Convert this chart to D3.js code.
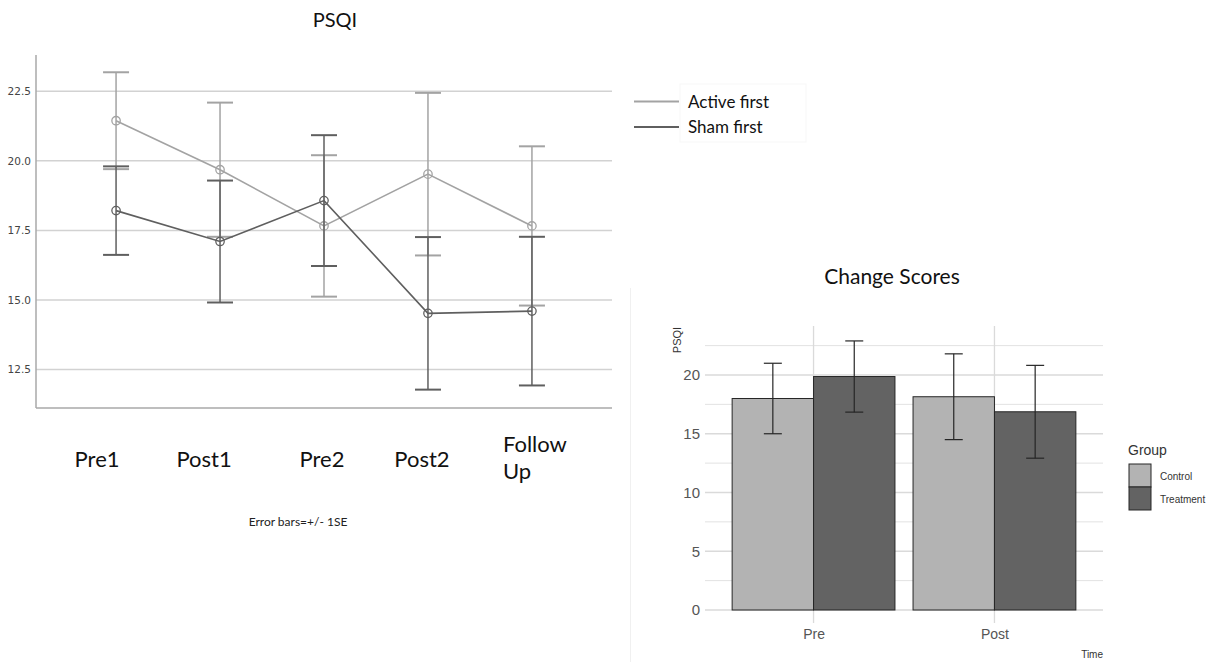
<!DOCTYPE html>
<html>
<head>
<meta charset="utf-8">
<script src="https://cdn.jsdelivr.net/npm/d3@7/dist/d3.min.js"></script>
<style>
  html, body { margin: 0; padding: 0; background: #fff; }
  svg { display: block; }
</style>
</head>
<body>
<svg id="chart" width="1218" height="662"></svg>
<script>
// ---- PSQI over time (means ± 1 SE) ----
const timepoints = ["Pre1", "Post1", "Pre2", "Post2", "Follow Up"];
const timeLabels = [["Pre1"], ["Post1"], ["Pre2"], ["Post2"], ["Follow", "Up"]];
const activeMean = [21.44, 19.68, 17.66, 19.52, 17.66];
const activeSE   = [1.74, 2.41, 2.54, 2.92, 2.86];
const shamMean   = [18.21, 17.10, 18.57, 14.52, 14.60];
const shamSE     = [1.59, 2.19, 2.35, 2.74, 2.67];
const psqiTicks  = [12.5, 15.0, 17.5, 20.0, 22.5];
const seriesNames = ["Active first", "Sham first"];

// ---- Change scores bar chart ----
const times = ["Pre", "Post"];
const groups = ["Control", "Treatment"];
const controlMean = [18.0, 18.15];
const controlErr  = [3.0, 3.65];
const treatMean   = [19.87, 16.87];
const treatErr    = [3.03, 3.95];
const barTicks    = [0, 5, 10, 15, 20];
const barMinor    = [2.5, 7.5, 12.5, 17.5, 22.5];

const svg = d3.select("#chart");
svg.append("rect").attr("width", 1218).attr("height", 662).attr("fill", "#fff");

const calibri = "Lato, 'Open Sans', sans-serif";
const arial = "'Liberation Sans', Arial, sans-serif";

// ================= Left: line chart =================
const L = { left: 36, right: 612, top: 55, bottom: 408 };
const x = d3.scalePoint().domain(timepoints).range([L.left, L.right]).padding(0.77);
const y = d3.scaleLinear().domain([11.12, 23.8]).range([L.bottom, L.top]);

const left = svg.append("g");

// gridlines
left.append("g").selectAll("line").data(psqiTicks).join("line")
  .attr("x1", L.left).attr("x2", L.right)
  .attr("y1", d => y(d)).attr("y2", d => y(d))
  .attr("stroke", "#d2d2d2").attr("stroke-width", 1.5);

// y axis
const yAxis = d3.axisLeft(y).tickValues(psqiTicks).tickFormat(d3.format(".1f")).tickSize(0).tickPadding(5);
const gy = left.append("g").attr("transform", `translate(${L.left},0)`).call(yAxis);
gy.select(".domain").remove();
gy.selectAll("text").attr("font-family", "'DejaVu Sans', sans-serif").attr("font-size", 10.5).attr("fill", "#444");

// axis frame
left.append("line").attr("x1", L.left).attr("x2", L.left).attr("y1", L.top).attr("y2", L.bottom)
  .attr("stroke", "#a8a8a8").attr("stroke-width", 1.5);
left.append("line").attr("x1", L.left).attr("x2", L.right).attr("y1", L.bottom).attr("y2", L.bottom)
  .attr("stroke", "#a8a8a8").attr("stroke-width", 1.5);

const series = [
  { name: seriesNames[0], mean: activeMean, se: activeSE, color: "#a3a3a3" },
  { name: seriesNames[1], mean: shamMean, se: shamSE, color: "#5f5f5f" }
];

const capHalf = 13;
series.forEach(s => {
  const pts = timepoints.map((t, i) => ({ t, m: s.mean[i], se: s.se[i] }));
  const g = left.append("g");
  // error bars
  g.selectAll("line.err").data(pts).join("line").attr("class", "err")
    .attr("x1", d => x(d.t)).attr("x2", d => x(d.t))
    .attr("y1", d => y(d.m + d.se)).attr("y2", d => y(d.m - d.se))
    .attr("stroke", s.color).attr("stroke-width", 1.5);
  g.selectAll("line.capT").data(pts).join("line").attr("class", "capT")
    .attr("x1", d => x(d.t) - capHalf).attr("x2", d => x(d.t) + capHalf)
    .attr("y1", d => y(d.m + d.se)).attr("y2", d => y(d.m + d.se))
    .attr("stroke", s.color).attr("stroke-width", 2);
  g.selectAll("line.capB").data(pts).join("line").attr("class", "capB")
    .attr("x1", d => x(d.t) - capHalf).attr("x2", d => x(d.t) + capHalf)
    .attr("y1", d => y(d.m - d.se)).attr("y2", d => y(d.m - d.se))
    .attr("stroke", s.color).attr("stroke-width", 2);
  // mean line
  g.append("path").datum(pts)
    .attr("d", d3.line().x(d => x(d.t)).y(d => y(d.m)))
    .attr("fill", "none").attr("stroke", s.color).attr("stroke-width", 1.6);
  // markers
  g.selectAll("circle").data(pts).join("circle")
    .attr("cx", d => x(d.t)).attr("cy", d => y(d.m)).attr("r", 4.2)
    .attr("fill", "none").attr("stroke", s.color).attr("stroke-width", 1.3);
});

// title
left.append("text").attr("x", 335).attr("y", 27).attr("text-anchor", "middle")
  .attr("font-family", calibri).attr("font-size", 20).attr("fill", "#111").text("PSQI");

// category labels (text boxes below the plot)
const labelShift = [-19, -16, -2, -6, -29];
const labelAnchor = ["middle", "middle", "middle", "middle", "start"];
timepoints.forEach((t, i) => {
  const txt = left.append("text")
    .attr("x", x(t) + labelShift[i])
    .attr("y", timeLabels[i].length > 1 ? 452 : 467)
    .attr("text-anchor", labelAnchor[i])
    .attr("font-family", calibri).attr("font-size", 22).attr("fill", "#111");
  timeLabels[i].forEach((line, k) => {
    txt.append("tspan").attr("x", x(t) + labelShift[i]).attr("dy", k === 0 ? 0 : 27).text(line);
  });
});

left.append("text").attr("x", 298).attr("y", 526).attr("text-anchor", "middle")
  .attr("font-family", calibri).attr("font-size", 12).attr("fill", "#222").text("Error bars=+/- 1SE");

// legend
const lg = left.append("g");
lg.append("rect").attr("x", 680).attr("y", 84).attr("width", 126).attr("height", 58)
  .attr("fill", "none").attr("stroke", "#f7f7f7");
series.forEach((s, i) => {
  lg.append("line").attr("x1", 634).attr("x2", 679)
    .attr("y1", 101.5 + i * 25.5).attr("y2", 101.5 + i * 25.5)
    .attr("stroke", s.color).attr("stroke-width", 2);
  lg.append("text").attr("x", 688).attr("y", 107.5 + i * 25.5)
    .attr("font-family", calibri).attr("font-size", 17).attr("fill", "#111").text(s.name);
});

// faint panel divider
svg.append("line").attr("x1", 630.5).attr("x2", 630.5).attr("y1", 288).attr("y2", 662)
  .attr("stroke", "#f0f0f0").attr("stroke-width", 1);

// ================= Right: bar chart =================
const R = { left: 705, right: 1103, top: 326, bottom: 623 };
const x2 = d3.scalePoint().domain(times).range([R.left, R.right]).padding(0.6);
const dodge = d3.scaleBand().domain(groups).range([-0.45 * x2.step(), 0.45 * x2.step()]);
const y2 = d3.scaleLinear().domain([0, 24.17]).range([610, R.top]);

const right = svg.append("g");

// grid
right.append("g").selectAll("line").data(barMinor).join("line")
  .attr("x1", R.left).attr("x2", R.right).attr("y1", d => y2(d)).attr("y2", d => y2(d))
  .attr("stroke", "#e2e2e2").attr("stroke-width", 1);
right.append("g").selectAll("line").data(barTicks).join("line")
  .attr("x1", R.left).attr("x2", R.right).attr("y1", d => y2(d)).attr("y2", d => y2(d))
  .attr("stroke", "#dadada").attr("stroke-width", 1.3);
right.append("g").selectAll("line").data(times).join("line")
  .attr("x1", d => x2(d)).attr("x2", d => x2(d)).attr("y1", R.top).attr("y2", R.bottom)
  .attr("stroke", "#dadada").attr("stroke-width", 1.3);

const barData = [];
times.forEach((t, i) => {
  barData.push({ t, g: groups[0], m: controlMean[i], e: controlErr[i] });
  barData.push({ t, g: groups[1], m: treatMean[i], e: treatErr[i] });
});
const fill = d3.scaleOrdinal().domain(groups).range(["#b3b3b3", "#636363"]);

right.append("g").selectAll("rect").data(barData).join("rect")
  .attr("x", d => x2(d.t) + dodge(d.g))
  .attr("width", dodge.bandwidth())
  .attr("y", d => y2(d.m))
  .attr("height", d => y2(0) - y2(d.m))
  .attr("fill", d => fill(d.g)).attr("stroke", "#262626").attr("stroke-width", 1);

const ecap = 9;
const eg = right.append("g");
eg.selectAll("line.v").data(barData).join("line").attr("class", "v")
  .attr("x1", d => x2(d.t) + dodge(d.g) + dodge.bandwidth() / 2)
  .attr("x2", d => x2(d.t) + dodge(d.g) + dodge.bandwidth() / 2)
  .attr("y1", d => y2(d.m + d.e)).attr("y2", d => y2(d.m - d.e))
  .attr("stroke", "#262626").attr("stroke-width", 1.2);
[1, -1].forEach(sgn => {
  eg.append("g").selectAll("line").data(barData).join("line")
    .attr("x1", d => x2(d.t) + dodge(d.g) + dodge.bandwidth() / 2 - ecap)
    .attr("x2", d => x2(d.t) + dodge(d.g) + dodge.bandwidth() / 2 + ecap)
    .attr("y1", d => y2(d.m + sgn * d.e)).attr("y2", d => y2(d.m + sgn * d.e))
    .attr("stroke", "#262626").attr("stroke-width", 1.2);
});

// axes text
const gy2 = right.append("g").attr("transform", `translate(${R.left - 3},0)`)
  .call(d3.axisLeft(y2).tickValues(barTicks).tickSize(0).tickPadding(2));
gy2.select(".domain").remove();
gy2.selectAll("text").attr("font-family", arial).attr("font-size", 15).attr("fill", "#555");

const gx2 = right.append("g").attr("transform", `translate(0,${R.bottom})`)
  .call(d3.axisBottom(x2).tickSize(0).tickPadding(6));
gx2.select(".domain").remove();
gx2.selectAll("text").attr("font-family", arial).attr("font-size", 14).attr("fill", "#555");

right.append("text").attr("transform", `translate(681,340) rotate(-90)`)
  .attr("text-anchor", "middle").attr("font-family", arial).attr("font-size", 11).attr("fill", "#333").text("PSQI");
right.append("text").attr("x", R.right).attr("y", 658).attr("text-anchor", "end")
  .attr("font-family", arial).attr("font-size", 10).attr("fill", "#333").text("Time");

right.append("text").attr("x", 892).attr("y", 284).attr("text-anchor", "middle")
  .attr("font-family", calibri).attr("font-size", 21).attr("fill", "#111").text("Change Scores");

// legend
const rl = right.append("g");
rl.append("text").attr("x", 1128).attr("y", 455).attr("font-family", arial)
  .attr("font-size", 14).attr("fill", "#333").text("Group");
groups.forEach((gname, i) => {
  rl.append("rect").attr("x", 1129).attr("y", 464 + i * 23).attr("width", 22).attr("height", 23)
    .attr("fill", fill(gname)).attr("stroke", "#262626").attr("stroke-width", 1);
  rl.append("text").attr("x", 1160).attr("y", 480 + i * 23).attr("font-family", arial)
    .attr("font-size", 10).attr("fill", "#333").text(gname);
});
</script>
</body>
</html>
